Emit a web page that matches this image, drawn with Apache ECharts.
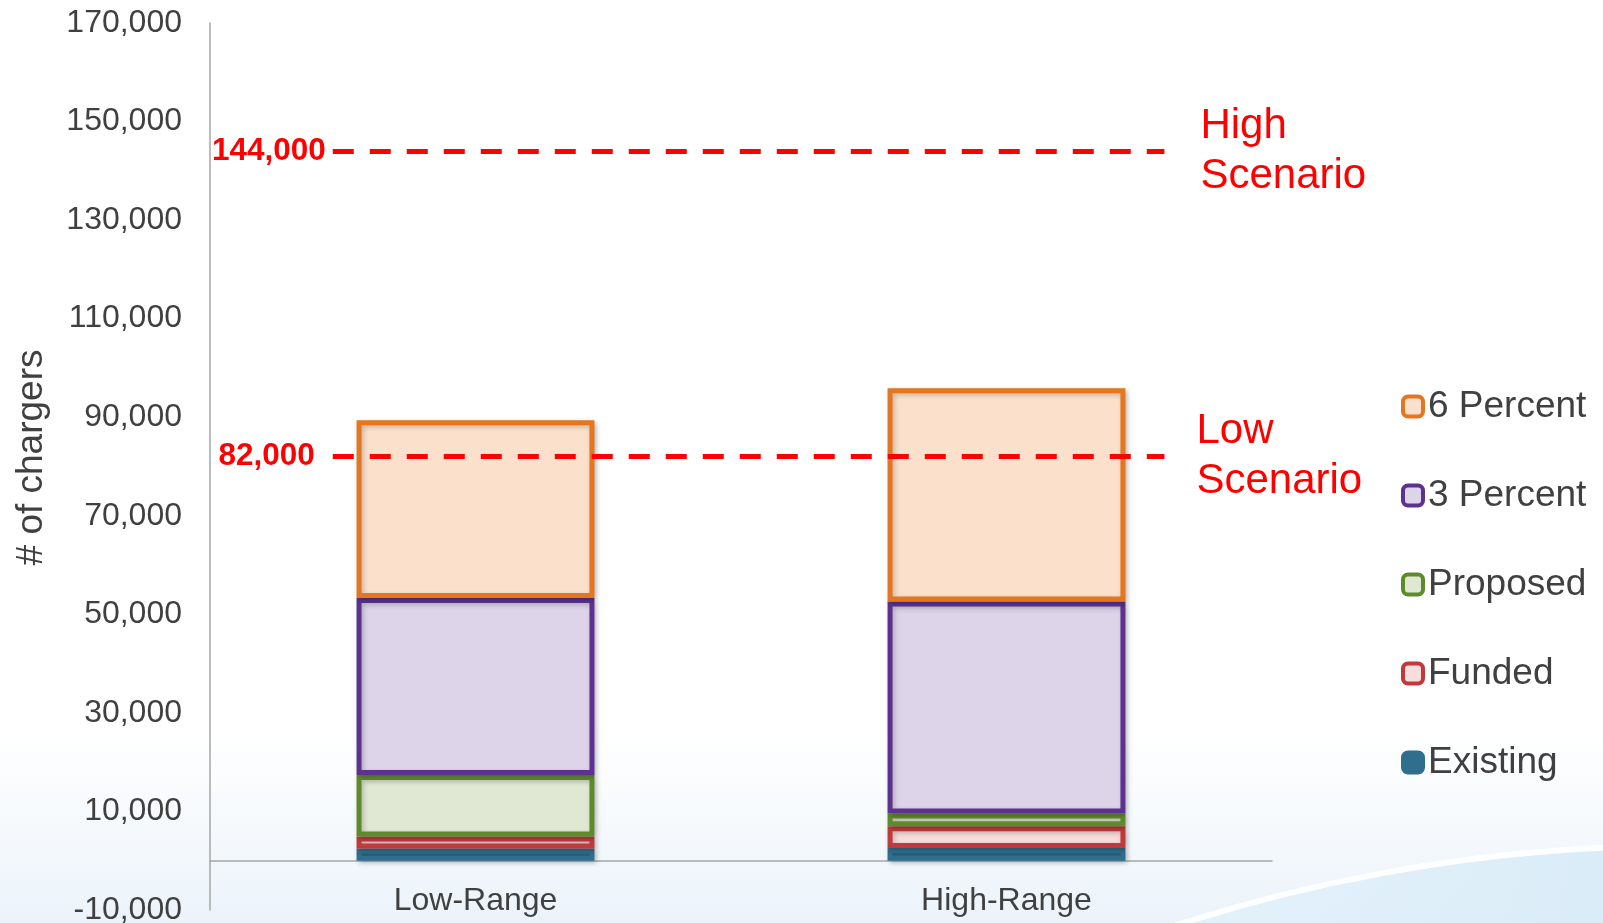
<!DOCTYPE html>
<html>
<head>
<meta charset="utf-8">
<title># of chargers</title>
<script src="https://cdn.jsdelivr.net/npm/echarts@6/dist/echarts.min.js"></script>
<style>
  html, body { margin: 0; padding: 0; background: #ffffff; }
  #chart { width: 1603px; height: 923px; }
</style>
</head>
<body>
<div id="chart"></div>
<script>
// Charger counts per range, stacked from the bottom up
const categories = ['Low-Range', 'High-Range'];
const existing = [2500, 2600];
const funded = [2400, 4400];
const proposed = [12500, 2600];
const threePercent = [35900, 43000];
const sixPercent = [36100, 43300];

// Value-axis labels that are printed (every other 10,000 step)
const yTickLabels = [-10000, 10000, 30000, 50000, 70000, 90000, 110000, 130000, 150000, 170000];

// Scenario targets drawn as dashed reference lines
const scenarioValues = [144000, 82000];
const scenarioNames = ['High\nScenario', 'Low\nScenario'];

const legendOrder = ['6 Percent', '3 Percent', 'Proposed', 'Funded', 'Existing'];

const FONT = '"Liberation Sans", Arial, Helvetica, sans-serif';
const TEXT = '#404040';
const AXIS = '#a6a6a6';
const RED = '#ff0000';

const fmt = v => v.toLocaleString('en-US');

function segment(name, values, fill, border) {
  return {
    name: name,
    type: 'bar',
    stack: 'total',
    barWidth: '44.8%',
    data: values,
    itemStyle: {
      color: fill,
      borderColor: border,
      borderWidth: 5,
      shadowColor: 'rgba(0,0,0,0.22)',
      shadowBlur: 5,
      shadowOffsetX: 2,
      shadowOffsetY: 2
    },
    emphasis: { disabled: true }
  };
}

// Each target gets two overlapping lines: one carries the value on the left,
// the other (stroke hidden) carries the scenario name on the right.
const lineStart = 0.1156, lineEnd = 0.8987;
const scenarioLines = [];
scenarioValues.forEach((v, i) => {
  scenarioLines.push([
    {
      coord: [lineStart, v],
      label: {
        show: true, position: 'start', distance: i === 0 ? 7 : 18,
        formatter: fmt(v), color: RED, fontFamily: FONT,
        fontSize: 31.5, fontWeight: 'bold'
      }
    },
    { coord: [lineEnd, v] }
  ]);
  scenarioLines.push([
    {
      coord: [lineStart, v],
      lineStyle: { color: 'rgba(255,0,0,0)', width: 0 },
      label: {
        show: true, position: 'end', distance: i === 0 ? 36 : 32,
        formatter: scenarioNames[i], color: RED, fontFamily: FONT,
        fontSize: 42, lineHeight: 50, opacity: 1
      }
    },
    { coord: [lineEnd, v] }
  ]);
});

const chart = echarts.init(document.getElementById('chart'), null, { renderer: 'canvas' });

chart.setOption({
  animation: false,
  backgroundColor: '#ffffff',
  textStyle: { fontFamily: FONT },
  graphic: [
    {
      type: 'rect', z: -10, silent: true,
      shape: { x: 0, y: 730, width: 1603, height: 193 },
      style: {
        fill: new echarts.graphic.LinearGradient(0, 0, 0, 1, [
          { offset: 0, color: 'rgba(236,244,250,0)' },
          { offset: 1, color: '#ebf3fa' }
        ])
      }
    },
    {
      type: 'circle', z: -9, silent: true,
      shape: { cx: 1680, cy: 2488, r: 1642 },
      style: {
        fill: {
          type: 'linear', x: 1150, y: 0, x2: 1603, y2: 0, global: true,
          colorStops: [
            { offset: 0, color: 'rgba(222,239,250,0.6)' },
            { offset: 1, color: '#daecf8' }
          ]
        },
        stroke: 'rgba(255,255,255,0.9)',
        lineWidth: 6
      }
    }
  ],
  grid: {
    left: 210, right: 331, top: 23, bottom: 13,
    outerBoundsMode: 'none', containLabel: false
  },
  legend: {
    orient: 'vertical',
    left: 1401,
    top: 388,
    padding: 0,
    itemGap: 52,
    itemWidth: 20,
    itemHeight: 20,
    icon: 'roundRect',
    itemStyle: { borderWidth: 4, shadowBlur: 0, shadowOffsetX: 0, shadowOffsetY: 0 },
    textStyle: { color: TEXT, fontSize: 37, lineHeight: 37, fontFamily: FONT },
    data: legendOrder,
    selectedMode: false
  },
  xAxis: [
    {
      type: 'category',
      data: categories,
      axisLine: { show: true, onZero: true, lineStyle: { color: AXIS, width: 1.5 } },
      axisTick: { show: false },
      axisLabel: { color: TEXT, fontSize: 32, fontFamily: FONT, margin: -25 },
      splitLine: { show: false }
    },
    { type: 'value', min: 0, max: 1, show: false }
  ],
  yAxis: {
    type: 'value',
    min: -10000,
    max: 170000,
    interval: 10000,
    name: '# of chargers',
    nameLocation: 'middle',
    nameGap: 160,
    nameTextStyle: { color: TEXT, fontSize: 37, fontFamily: FONT, padding: [0, 0, 0, 18] },
    axisLine: { show: true, lineStyle: { color: AXIS, width: 1.5 } },
    axisTick: { show: false },
    splitLine: { show: false },
    axisLabel: {
      color: TEXT, fontSize: 32, fontFamily: FONT, margin: 28,
      formatter: v => (yTickLabels.indexOf(v) >= 0 ? fmt(v) : '')
    }
  },
  series: [
    segment('Existing', existing, '#2f6e8d', '#2f6e8d'),
    segment('Funded', funded, '#f9dcdc', '#c0393b'),
    segment('Proposed', proposed, '#e0e8d3', '#5f8a2c'),
    segment('3 Percent', threePercent, '#ddd4e9', '#5c3190'),
    segment('6 Percent', sixPercent, '#fbe1cb', '#e3761f'),
    {
      name: 'scenarios',
      type: 'line',
      xAxisIndex: 1,
      yAxisIndex: 0,
      data: [],
      silent: true,
      z: 5,
      markLine: {
        silent: true,
        symbol: 'none',
        animation: false,
        lineStyle: { color: RED, width: 5, type: [21, 16] },
        emphasis: { disabled: true },
        data: scenarioLines
      }
    }
  ]
});
</script>
</body>
</html>
